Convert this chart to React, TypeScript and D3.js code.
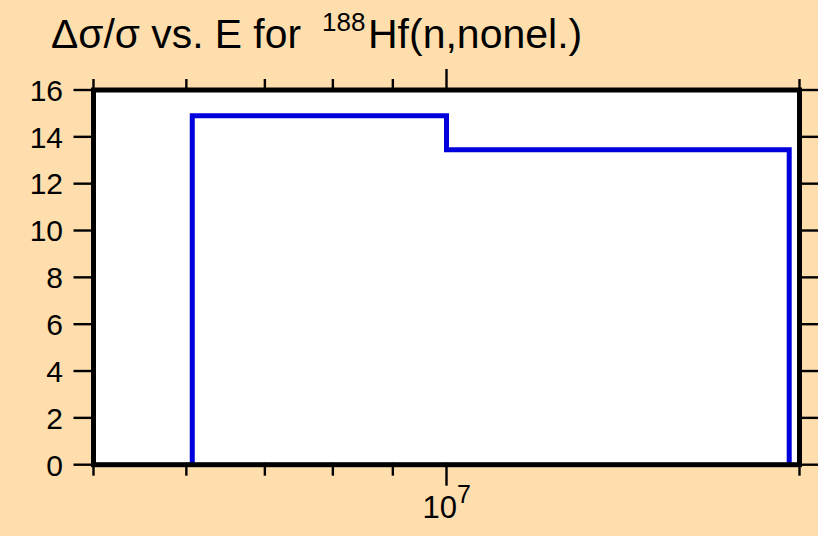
import React from "react";
import * as d3 from "d3";

const binEdges = [6.07e6, 1.0e7, 1.96e7];
const binValues = [14.9, 13.45];
const yTicks = [0, 2, 4, 6, 8, 10, 12, 14, 16];
const xMinorTicks = [5e6, 6e6, 7e6, 8e6, 9e6, 2e7];
const xMajorTicks = [1e7];
const xDomain = [5e6, 2e7];
const yDomain = [0, 16];

const W = 818;
const H = 536;
const left = 93.5;
const right = 799.5;
const top = 90;
const bottom = 464.7;

export default function App() {
  const x = d3.scaleLog().domain(xDomain).range([left, right]);
  const y = d3.scaleLinear().domain(yDomain).range([bottom, top]);

  const pts: [number, number][] = [];
  pts.push([binEdges[0], 0]);
  binValues.forEach((v, i) => {
    pts.push([binEdges[i], v]);
    pts.push([binEdges[i + 1], v]);
  });
  pts.push([binEdges[binEdges.length - 1], 0]);
  const line = d3
    .line<[number, number]>()
    .x((d) => x(d[0]))
    .y((d) => y(d[1]));

  const font = "'Liberation Sans', Arial, Helvetica, sans-serif";

  return (
    <div style={{ position: "fixed", left: 0, top: 0 }}>
      <svg width={W} height={H} style={{ display: "block" }}>
        <rect x={0} y={0} width={W} height={H} fill="#FFDEAD" />
        <rect x={left} y={top} width={right - left} height={bottom - top} fill="#ffffff" />
        <path d={line(pts) || ""} fill="none" stroke="#0000DD" strokeWidth={5} strokeLinejoin="miter" />
        {/* y ticks */}
        {yTicks.map((t) => (
          <g key={"y" + t}>
            <line x1={left - 20} x2={left + 2} y1={y(t)} y2={y(t)} stroke="#000" strokeWidth={2.4} />
            <line x1={right - 2} x2={right + 20} y1={y(t)} y2={y(t)} stroke="#000" strokeWidth={2.4} />
            <text
              x={63}
              y={y(t)}
              dy="0.36em"
              textAnchor="end"
              fontFamily={font}
              fontSize={30}
              fill="#000"
            >
              {t}
            </text>
          </g>
        ))}
        {/* x minor ticks */}
        {xMinorTicks.map((t) => (
          <g key={"xm" + t}>
            <line x1={x(t)} x2={x(t)} y1={bottom - 2} y2={bottom + 11} stroke="#000" strokeWidth={2.4} />
            <line x1={x(t)} x2={x(t)} y1={top + 2} y2={top - 11} stroke="#000" strokeWidth={2.4} />
          </g>
        ))}
        {xMajorTicks.map((t) => (
          <g key={"xM" + t}>
            <line x1={x(t)} x2={x(t)} y1={bottom - 2} y2={bottom + 21} stroke="#000" strokeWidth={2.4} />
            <line x1={x(t)} x2={x(t)} y1={top + 2} y2={top - 21} stroke="#000" strokeWidth={2.4} />
            <text x={x(t) - 24} y={518} fontFamily={font} fontSize={31} fill="#000">
              {"10"}
              <tspan fontSize={25} dy={-15}>
                {String(Math.round(Math.log10(t)))}
              </tspan>
            </text>
          </g>
        ))}
        {/* frame */}
        <rect
          x={left}
          y={top}
          width={right - left}
          height={bottom - top}
          fill="none"
          stroke="#000"
          strokeWidth={5}
        />
        {/* title */}
        <text x={51} y={48} fontFamily={font} fontSize={41} fill="#000" textLength={250} lengthAdjust="spacingAndGlyphs">
          {"Δσ/σ vs. E for"}
        </text>
        <text x={322} y={30.5} fontFamily={font} fontSize={26} fill="#000">
          188
        </text>
        <text x={368} y={48} fontFamily={font} fontSize={41} fill="#000">
          Hf(n,nonel.)
        </text>
      </svg>
    </div>
  );
}
